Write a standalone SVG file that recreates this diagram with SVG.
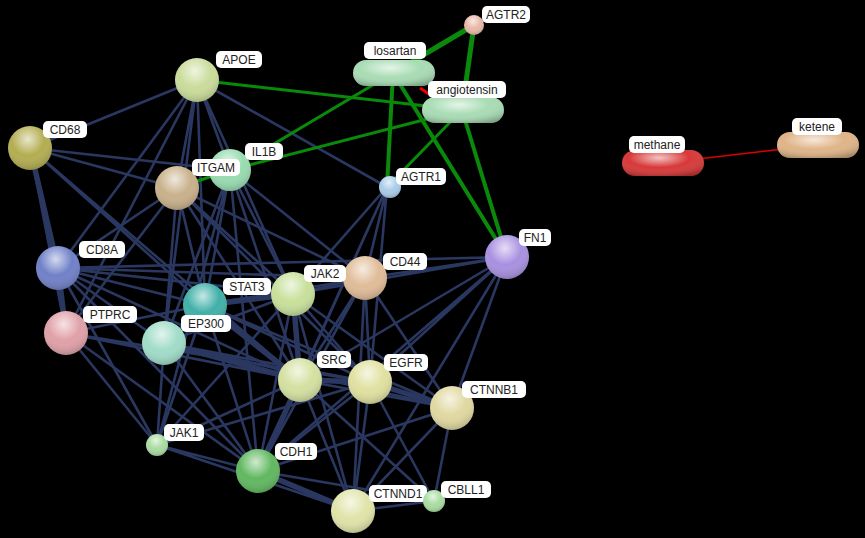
<svg xmlns="http://www.w3.org/2000/svg" width="865" height="538" viewBox="0 0 865 538">
<defs>
<radialGradient id="g" cx="0.45" cy="0.3" r="0.75"><stop offset="0" stop-color="#fff" stop-opacity="0.7"/><stop offset="0.5" stop-color="#fff" stop-opacity="0"/><stop offset="1" stop-color="#000" stop-opacity="0.25"/></radialGradient>
</defs>
<style>
.b{stroke:#2a3760;fill:none}
.gr{stroke:#0a8a0a;fill:none}
.t{font-family:"Liberation Sans",Arial,sans-serif;font-size:12px;fill:#222}
.lb{fill:#fff}
</style>
<rect width="865" height="538" fill="#000"/>
<g id="connectors">
<g class="b" stroke-width="2.6">
<path d="M197 80L30 148M197 80L58 268M197 80L177 188M197 80L230 170M197 80L205 305M197 80L164 343M197 80L387 187M197 80L293 294M197 80L66 333"/>
<path d="M30 148L230 170M30 148L177 188M30 148L205 305M30 148L300 380M30 148L66 333" />
<path d="M177 188L58 268M177 188L205 305M177 188L164 343M177 188L300 380M177 188L365 278M177 188L293 294M177 188L66 333M177 188L370 382"/>
<path d="M230 170L205 305M230 170L293 294M230 170L300 380M230 170L164 343M230 170L365 278M230 170L258 471M230 170L157 445"/>
<path d="M387 187L293 294M387 187L300 380M387 187L365 278M387 187L370 382M387 187L258 471"/>
<path d="M507 257L58 268M507 257L365 278M507 257L293 294M507 257L300 380M507 257L370 382M507 257L452 408M507 257L353 511M507 257L258 471"/>
<path d="M58 268L205 305M58 268L293 294M58 268L300 380M58 268L365 278M58 268L157 445M58 268L258 471M58 268L164 343"/>
<path d="M66 333L205 305M66 333L300 380M66 333L157 445M66 333L258 471M66 333L370 382"/>
<path d="M205 305L293 294M205 305L365 278M205 305L300 380M205 305L370 382M205 305L452 408M205 305L258 471M205 305L157 445M205 305L164 343"/>
<path d="M164 343L293 294M164 343L300 380M164 343L370 382M164 343L258 471M164 343L157 445M164 343L452 408"/>
<path d="M293 294L365 278M293 294L300 380M293 294L370 382M293 294L452 408M293 294L258 471M293 294L353 511M293 294L157 445"/>
<path d="M365 278L300 380M365 278L370 382M365 278L452 408M365 278L258 471M365 278L353 511"/>
<path d="M300 380L370 382M300 380L452 408M300 380L258 471M300 380L353 511M300 380L157 445M300 380L434 501"/>
<path d="M370 382L452 408M370 382L258 471M370 382L353 511M370 382L434 501M370 382L157 445"/>
<path d="M452 408L258 471M452 408L353 511M452 408L434 501M258 471L353 511M258 471L434 501M157 445L258 471M157 445L353 511M353 511L434 501"/>
</g>
<g class="b" stroke-width="5.5">
<path d="M30 148L58 268M58 268L66 333M205 305L300 380M300 380L370 382M370 382L452 408M258 471L353 511M293 294L300 380M300 380L258 471M205 305L293 294M164 343L300 380"/>
</g>
<g class="gr">
<path stroke-width="5" d="M393 73L474 25M462 110L474 25"/>
<path stroke-width="4" d="M393 73L387 187M393 73L507 257M462 110L507 257"/>
<path stroke-width="3" d="M393 73L230 170M462 110L230 170M462 110L387 187M197 80L462 110M177 188L230 170"/>
</g>
<path d="M420 88L432 96" stroke="#e00" stroke-width="3"/>
<path d="M663 163L818 145" stroke="#d00" stroke-width="1.5"/>
</g>
<g id="nodes">
<g id="APOE"><circle cx="197" cy="80" r="22" fill="#c9dc9a"/><circle cx="197" cy="80" r="22" fill="url(#g)"/><rect class="lb" x="216" y="51" width="46" height="17" rx="5"/><text class="t" x="239" y="64" text-anchor="middle">APOE</text></g>
<g id="CD68"><circle cx="30" cy="148" r="22" fill="#b3ad50"/><circle cx="30" cy="148" r="22" fill="url(#g)"/><rect class="lb" x="43" y="121" width="44" height="17" rx="5"/><text class="t" x="65" y="134" text-anchor="middle">CD68</text></g>
<g id="IL1B"><circle cx="230" cy="170" r="21" fill="#98dcb0"/><circle cx="230" cy="170" r="21" fill="url(#g)"/><rect class="lb" x="245" y="143" width="38" height="17" rx="5"/><text class="t" x="264" y="156" text-anchor="middle">IL1B</text></g>
<g id="ITGAM"><circle cx="177" cy="188" r="22" fill="#c8b08a"/><circle cx="177" cy="188" r="22" fill="url(#g)"/><rect class="lb" x="192" y="159" width="48" height="17" rx="5"/><text class="t" x="216" y="172" text-anchor="middle">ITGAM</text></g>
<g id="AGTR1"><circle cx="390" cy="187" r="11" fill="#a8cce8"/><circle cx="390" cy="187" r="11" fill="url(#g)"/><rect class="lb" x="396" y="168" width="50" height="17" rx="5"/><text class="t" x="421" y="181" text-anchor="middle">AGTR1</text></g>
<g id="AGTR2"><circle cx="474" cy="25" r="10" fill="#e8b8a8"/><circle cx="474" cy="25" r="10" fill="url(#g)"/><rect class="lb" x="482" y="6" width="48" height="17" rx="5"/><text class="t" x="506" y="19" text-anchor="middle">AGTR2</text></g>
<g id="losartan"><rect x="353" y="60" width="82" height="26" rx="13" fill="#a8dcb4"/><rect x="353" y="60" width="82" height="26" rx="13" fill="url(#g)"/><rect class="lb" x="364" y="42" width="62" height="17" rx="5"/><text class="t" x="395" y="55" text-anchor="middle">losartan</text></g>
<g id="angiotensin"><rect x="422" y="97" width="82" height="26" rx="13" fill="#a8dcb4"/><rect x="422" y="97" width="82" height="26" rx="13" fill="url(#g)"/><rect class="lb" x="428" y="81" width="78" height="17" rx="5"/><text class="t" x="467" y="94" text-anchor="middle">angiotensin</text></g>
<g id="FN1"><circle cx="507" cy="257" r="22" fill="#a890e0"/><circle cx="507" cy="257" r="22" fill="url(#g)"/><rect class="lb" x="519" y="229" width="32" height="17" rx="5"/><text class="t" x="535" y="242" text-anchor="middle">FN1</text></g>
<g id="CD44"><circle cx="365" cy="278" r="22" fill="#e0bc98"/><circle cx="365" cy="278" r="22" fill="url(#g)"/><rect class="lb" x="383" y="253" width="44" height="17" rx="5"/><text class="t" x="405" y="266" text-anchor="middle">CD44</text></g>
<g id="JAK2"><circle cx="293" cy="294" r="22" fill="#c8e09a"/><circle cx="293" cy="294" r="22" fill="url(#g)"/><rect class="lb" x="304" y="265" width="42" height="17" rx="5"/><text class="t" x="325" y="278" text-anchor="middle">JAK2</text></g>
<g id="STAT3"><circle cx="205" cy="305" r="22" fill="#40b0a8"/><circle cx="205" cy="305" r="22" fill="url(#g)"/><rect class="lb" x="223" y="278" width="48" height="17" rx="5"/><text class="t" x="247" y="291" text-anchor="middle">STAT3</text></g>
<g id="CD8A"><circle cx="58" cy="268" r="22" fill="#7080c8"/><circle cx="58" cy="268" r="22" fill="url(#g)"/><rect class="lb" x="79" y="241" width="46" height="17" rx="5"/><text class="t" x="102" y="254" text-anchor="middle">CD8A</text></g>
<g id="PTPRC"><circle cx="66" cy="333" r="22" fill="#e0a0a8"/><circle cx="66" cy="333" r="22" fill="url(#g)"/><rect class="lb" x="83" y="306" width="54" height="17" rx="5"/><text class="t" x="110" y="319" text-anchor="middle">PTPRC</text></g>
<g id="EP300"><circle cx="164" cy="343" r="22" fill="#a0dcc8"/><circle cx="164" cy="343" r="22" fill="url(#g)"/><rect class="lb" x="181" y="315" width="50" height="17" rx="5"/><text class="t" x="206" y="328" text-anchor="middle">EP300</text></g>
<g id="SRC"><circle cx="300" cy="380" r="22" fill="#d4e0a0"/><circle cx="300" cy="380" r="22" fill="url(#g)"/><rect class="lb" x="317" y="351" width="34" height="17" rx="5"/><text class="t" x="334" y="364" text-anchor="middle">SRC</text></g>
<g id="EGFR"><circle cx="370" cy="382" r="22" fill="#e0e0a0"/><circle cx="370" cy="382" r="22" fill="url(#g)"/><rect class="lb" x="384" y="354" width="44" height="17" rx="5"/><text class="t" x="406" y="367" text-anchor="middle">EGFR</text></g>
<g id="CTNNB1"><circle cx="452" cy="408" r="22" fill="#e0d8a0"/><circle cx="452" cy="408" r="22" fill="url(#g)"/><rect class="lb" x="462" y="381" width="64" height="17" rx="5"/><text class="t" x="494" y="394" text-anchor="middle">CTNNB1</text></g>
<g id="JAK1"><circle cx="157" cy="445" r="11" fill="#a8dca0"/><circle cx="157" cy="445" r="11" fill="url(#g)"/><rect class="lb" x="164" y="424" width="40" height="17" rx="5"/><text class="t" x="184" y="437" text-anchor="middle">JAK1</text></g>
<g id="CDH1"><circle cx="258" cy="471" r="22" fill="#60b860"/><circle cx="258" cy="471" r="22" fill="url(#g)"/><rect class="lb" x="275" y="443" width="42" height="17" rx="5"/><text class="t" x="296" y="456" text-anchor="middle">CDH1</text></g>
<g id="CTNND1"><circle cx="353" cy="511" r="22" fill="#e0e4a8"/><circle cx="353" cy="511" r="22" fill="url(#g)"/><rect class="lb" x="369" y="485" width="58" height="17" rx="5"/><text class="t" x="398" y="498" text-anchor="middle">CTNND1</text></g>
<g id="CBLL1"><circle cx="434" cy="501" r="11" fill="#a8dca0"/><circle cx="434" cy="501" r="11" fill="url(#g)"/><rect class="lb" x="441" y="481" width="50" height="17" rx="5"/><text class="t" x="466" y="494" text-anchor="middle">CBLL1</text></g>
<g id="methane"><rect x="622" y="150" width="82" height="26" rx="13" fill="#d83838"/><rect x="622" y="150" width="82" height="26" rx="13" fill="url(#g)"/><rect class="lb" x="629" y="136" width="56" height="17" rx="5"/><text class="t" x="657" y="149" text-anchor="middle">methane</text></g>
<g id="ketene"><rect x="777" y="132" width="82" height="26" rx="13" fill="#e0b488"/><rect x="777" y="132" width="82" height="26" rx="13" fill="url(#g)"/><rect class="lb" x="792" y="118" width="50" height="17" rx="5"/><text class="t" x="817" y="131" text-anchor="middle">ketene</text></g>
</g>
</svg>
